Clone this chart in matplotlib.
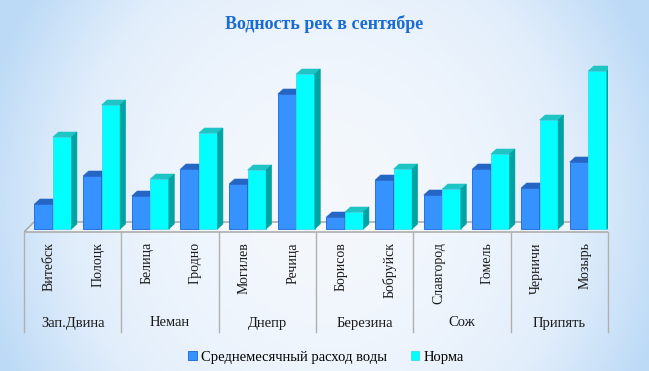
import matplotlib
matplotlib.use('Agg')
import matplotlib.pyplot as plt
import numpy as np
from matplotlib.patches import Polygon, Patch
from matplotlib.colors import LinearSegmentedColormap

plt.rcParams['font.family'] = ['Liberation Serif', 'DejaVu Serif']

# Data (arbitrary units)
rivers = ['Зап.Двина', 'Неман', 'Днепр', 'Березина', 'Сож', 'Припять']
stations = ['Витебск', 'Полоцк', 'Белица', 'Гродно', 'Могилев', 'Речица',
            'Борисов', 'Бобруйск', 'Славгород', 'Гомель', 'Черничи', 'Мозырь']
monthly = [25, 53, 33, 60, 45, 135, 12, 49, 34, 60, 41, 67]
norm = [92, 124, 50, 96, 59, 155, 17, 60, 40, 75, 109, 158]
series_names = ['Среднемесячный расход воды', 'Норма']

W, H = 649, 371
fig = plt.figure(figsize=(W / 100, H / 100), dpi=100)

# gradient background
bg = fig.add_axes([0, 0, 1, 1], zorder=-10)
u = np.linspace(0, 1, 300)
v = np.linspace(0, 1, 200)
U, V = np.meshgrid(u, v)
t = ((U - 0.5) / 0.5) ** 2 * 0.85 + ((V - 0.45) / 0.6) ** 2 * 0.35
t = np.clip(t, 0, 1)
cmap = LinearSegmentedColormap.from_list('bg', ['#f4f8fd', '#e2eefb', '#bcdaf6'])
bg.imshow(t, cmap=cmap, aspect='auto', extent=[0, 1, 0, 1], origin='lower', vmin=0, vmax=1)
bg.axis('off')

# main axes: 1 data unit ~ 1 px vertically
ax_left, ax_right, ax_top, ax_bot = 24, 608, 60, 239
ax = fig.add_axes([ax_left / W, (H - ax_bot) / H, (ax_right - ax_left) / W, (ax_bot - ax_top) / H])
ax.set_xlim(-0.5, len(stations) - 0.5)
ax.set_ylim(-10, 169)
ax.axis('off')

px_x = (len(stations)) / (ax_right - ax_left)   # data units per pixel in x
px_y = 179 / (ax_bot - ax_top)                  # data units per pixel in y
dx, dy = 5.5 * px_x, 5 * px_y
bw = 0.38
x = np.arange(len(stations))

# floor
floor = Polygon([(-0.5, -3 * px_y), (11.5, -3 * px_y), (11.5 + 15 * px_x, 7 * px_y),
                 (-0.5 + 10 * px_x, 7 * px_y)], closed=True, facecolor='#ffffff',
                alpha=0.35, edgecolor='#a8a8a8', lw=1, zorder=1)
ax.add_patch(floor)
ax.add_patch(Polygon([(-0.5, -3 * px_y), (11.5, -3 * px_y), (11.5 + 15 * px_x, 7 * px_y),
                      (-0.5 + 10 * px_x, 7 * px_y)], closed=True, fill=False,
                     edgecolor='#a8a8a8', lw=1, zorder=1))


def bar3d(left, h, front, top, side, edge, z):
    ax.bar(left, h, width=bw, align='edge', color=front, edgecolor=edge, lw=0.6, zorder=z)
    ax.add_patch(Polygon([(left, h), (left + bw, h), (left + bw + dx, h + dy), (left + dx, h + dy)],
                         closed=True, facecolor=top, edgecolor=top, lw=0.4, zorder=z))
    ax.add_patch(Polygon([(left + bw, 0), (left + bw + dx, dy), (left + bw + dx, h + dy), (left + bw, h)],
                         closed=True, facecolor=side, edgecolor=side, lw=0.4, zorder=z))


for i in range(len(stations)):
    bl = x[i] - 0.285
    bar3d(bl, monthly[i], '#3592ff', '#2566c4', '#1f5fb5', '#1f62d6', 2)
    bar3d(bl + bw, norm[i], '#00ffff', '#1fc4c4', '#00a3a3', '#3fd8f0', 3)

# category table below
line_kw = dict(color='#b0b0b0', lw=1, clip_on=False, zorder=1)
y_low = -3 * px_y - 100 * px_y
for b in np.arange(-0.5, len(stations), 2):
    ax.plot([b, b], [-3 * px_y, y_low], **line_kw)

for i, s in enumerate(stations):
    ax.text(x[i] + 0.02, -13 * px_y, s, rotation=90, ha='center', va='top',
            fontsize=10, color='#1a1a1a', clip_on=False)
for g, r in enumerate(rivers):
    ax.text(2 * g + 0.5, -94 * px_y, r, ha='center', va='center',
            fontsize=10.5, color='#1a1a1a', clip_on=False)

fig.text(0.5, 1 - 24 / H, 'Водность рек в сентябре', ha='center', va='center',
         fontsize=13, fontweight='bold', color='#1a6bd2')

handles = [Patch(facecolor='#3592ff', edgecolor='#1f62d6', lw=0.6),
           Patch(facecolor='#00ffff', edgecolor='#3fd8f0', lw=0.6)]
fig.legend(handles, series_names, loc='center', bbox_to_anchor=(326 / W, 1 - 357 / H),
           ncol=2, frameon=False, fontsize=10.5, handlelength=0.6, handleheight=0.6,
           handletextpad=0.3, columnspacing=1.6)

fig.savefig('out.png', dpi=100)
